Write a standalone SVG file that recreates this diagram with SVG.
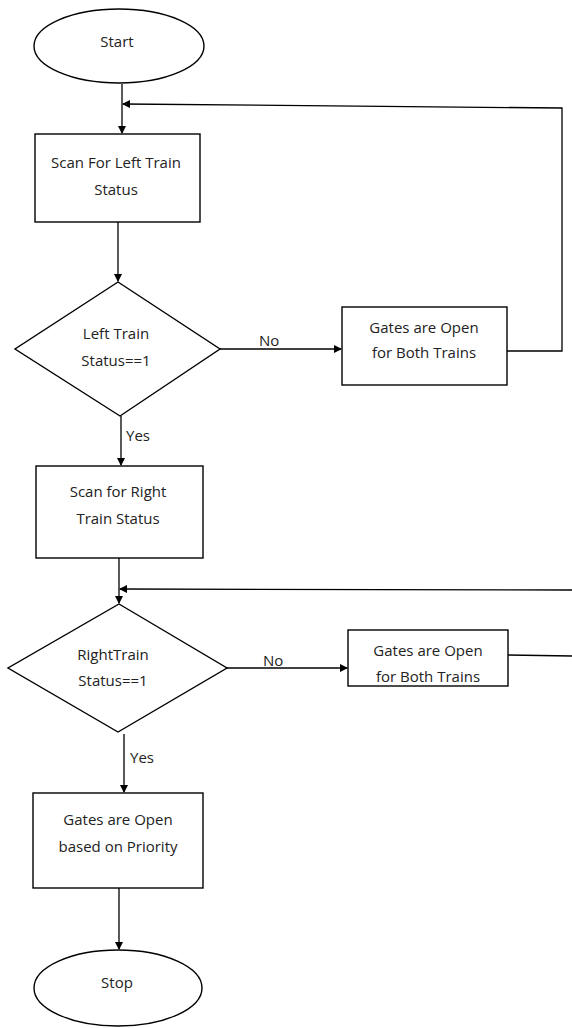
<svg xmlns="http://www.w3.org/2000/svg" width="572" height="1028" viewBox="0 0 572 1028">
<style>
.s{fill:#fff;stroke:#000;stroke-width:1.4}
.c{fill:none;stroke:#000;stroke-width:1.3}
.t{font-family:"Open Sans","Noto Sans",sans-serif;font-size:15px;fill:#222;text-anchor:middle}
.l{font-family:"Open Sans","Noto Sans",sans-serif;font-size:15px;fill:#222}
</style>
<defs>
<marker id="a" markerWidth="8" markerHeight="8" refX="7" refY="4" orient="auto" markerUnits="userSpaceOnUse">
<path d="M0,0 L8,4 L0,8 Z" fill="#000"/>
</marker>
</defs>
<rect width="572" height="1028" fill="#fff"/>
<g id="connectors">
<path class="c" d="M122,84 V133" marker-end="url(#a)"/>
<path class="c" d="M507,351 H562 V108 L123,104" marker-end="url(#a)"/>
<path class="c" d="M118,222 V281" marker-end="url(#a)"/>
<path class="c" d="M220,349 H341" marker-end="url(#a)"/>
<path class="c" d="M121,416 V465" marker-end="url(#a)"/>
<path class="c" d="M119,558 V603" marker-end="url(#a)"/>
<path class="c" d="M572,590 L120,589" marker-end="url(#a)"/>
<path class="c" d="M227,668 H347" marker-end="url(#a)"/>
<path class="c" d="M508,655 L572,656"/>
<path class="c" d="M124,734 V792" marker-end="url(#a)"/>
<path class="c" d="M119,888 V949" marker-end="url(#a)"/>
<text class="l" x="259" y="346">No</text>
<text class="l" x="126" y="441">Yes</text>
<text class="l" x="263" y="666">No</text>
<text class="l" x="130" y="763">Yes</text>
</g>
<g id="start">
<ellipse class="s" cx="119" cy="46" rx="85" ry="37"/>
<text class="t" x="117" y="47">Start</text>
</g>
<g id="scanLeft">
<rect class="s" x="35" y="134" width="165" height="88"/>
<text class="t" x="116" y="168">Scan For Left Train</text>
<text class="t" x="116" y="195">Status</text>
</g>
<g id="leftDecision">
<path class="s" d="M118,282 L220,349 L120,416 L15,349 Z"/>
<text class="t" x="116" y="339">Left Train</text>
<text class="t" x="116" y="366">Status==1</text>
</g>
<g id="gatesOpen1">
<rect class="s" x="342" y="307" width="165" height="78"/>
<text class="t" x="424" y="333">Gates are Open</text>
<text class="t" x="424" y="358">for Both Trains</text>
</g>
<g id="scanRight">
<rect class="s" x="36" y="466" width="167" height="92"/>
<text class="t" x="118" y="497">Scan for Right</text>
<text class="t" x="118" y="524">Train Status</text>
</g>
<g id="rightDecision">
<path class="s" d="M119,604 L227,668 L118,732 L8,668 Z"/>
<text class="t" x="113" y="660">RightTrain</text>
<text class="t" x="113" y="686">Status==1</text>
</g>
<g id="gatesOpen2">
<rect class="s" x="348" y="630" width="160" height="56"/>
<text class="t" x="428" y="656">Gates are Open</text>
<text class="t" x="428" y="682">for Both Trains</text>
</g>
<g id="gatesPriority">
<rect class="s" x="33" y="793" width="170" height="95"/>
<text class="t" x="118" y="825">Gates are Open</text>
<text class="t" x="118" y="852">based on Priority</text>
</g>
<g id="stop">
<ellipse class="s" cx="118" cy="988" rx="84" ry="38"/>
<text class="t" x="117" y="988">Stop</text>
</g>
</svg>
